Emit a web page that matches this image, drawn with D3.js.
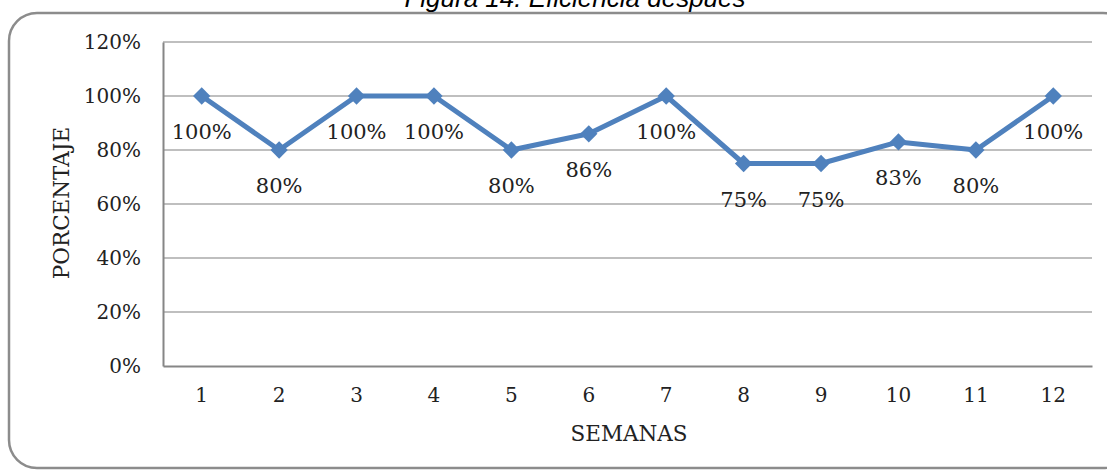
<!DOCTYPE html>
<html><head><meta charset="utf-8">
<script src="https://cdn.jsdelivr.net/npm/d3@7"></script>
<style>body{margin:0;background:#fff}svg{display:block}</style>
</head><body>
<script>
const weeks = ["1","2","3","4","5","6","7","8","9","10","11","12"];
const efficiency = [100, 80, 100, 100, 80, 86, 100, 75, 75, 83, 80, 100];
const yTicks = [0, 20, 40, 60, 80, 100, 120];
const title = "Figura 14. Eficiencia después";
const xTitle = "SEMANAS";
const yTitle = "PORCENTAJE";

const W = 1107, H = 470;
const m = {left: 163, right: 15, top: 42, bottom: 104};
const svg = d3.select("body").append("svg").attr("width", W).attr("height", H);
const serif = "'DejaVu Serif', serif";
const ink = "#222";

svg.append("rect").attr("x", 9).attr("y", 13).attr("width", 1122).attr("height", 455)
  .attr("rx", 28).attr("fill", "none").attr("stroke", "#8c8c8c").attr("stroke-width", 2.5);

svg.append("text").attr("x", 575).attr("y", 7).attr("text-anchor", "middle")
  .attr("font-family", "'Liberation Sans', Arial, sans-serif").attr("font-style", "italic")
  .attr("font-size", 26).attr("fill", "#000").text(title);

const x = d3.scaleBand().domain(weeks).range([m.left, W - m.right]);
const y = d3.scaleLinear().domain([0, 120]).range([H - m.bottom, m.top]);

svg.append("g").selectAll("line").data(yTicks.filter(d => d > 0)).join("line")
  .attr("x1", m.left).attr("x2", W - m.right)
  .attr("y1", d => y(d)).attr("y2", d => y(d))
  .attr("stroke", "#bfbfbf").attr("stroke-width", 2);

const yAxis = svg.append("g").attr("transform", `translate(${m.left},0)`)
  .call(d3.axisLeft(y).tickValues(yTicks).tickFormat(d => d + "%").tickSize(0).tickPadding(22));
yAxis.select(".domain").attr("stroke", "#868686").attr("stroke-width", 2);
yAxis.selectAll("text").attr("font-family", serif).attr("font-size", 20).attr("fill", ink);

const xAxis = svg.append("g").attr("transform", `translate(0,${y(0)})`)
  .call(d3.axisBottom(x).tickSize(0).tickPadding(22));
xAxis.select(".domain").attr("stroke", "#868686").attr("stroke-width", 2);
xAxis.selectAll("text").attr("font-family", serif).attr("font-size", 20).attr("fill", ink);

svg.append("text").attr("x", 629).attr("y", 441).attr("text-anchor", "middle")
  .attr("font-family", serif).attr("font-size", 21.5).attr("fill", ink).text(xTitle);
svg.append("text").attr("transform", `translate(69,${y(60) - 1}) rotate(-90)`).attr("text-anchor", "middle")
  .attr("font-family", serif).attr("font-size", 21.5).attr("fill", ink).text(yTitle);

const cx = d => x(d) + x.bandwidth() / 2;
const pts = weeks.map((w, i) => [cx(w), y(efficiency[i])]);
svg.append("path").attr("d", d3.line()(pts)).attr("fill", "none")
  .attr("stroke", "#4f81bd").attr("stroke-width", 5).attr("stroke-linejoin", "round");
svg.selectAll("path.mk").data(pts).join("path").attr("class", "mk")
  .attr("transform", d => `translate(${d[0]},${d[1]}) rotate(45)`)
  .attr("d", d3.symbol(d3.symbolSquare, 150)).attr("fill", "#4f81bd");

svg.selectAll("text.lbl").data(weeks).join("text").attr("class", "lbl")
  .attr("x", (w) => cx(w)).attr("y", (w, i) => y(efficiency[i]) + 43)
  .attr("text-anchor", "middle").attr("font-family", serif).attr("font-size", 21)
  .attr("fill", ink).text((w, i) => efficiency[i] + "%");
</script>
</body></html>
